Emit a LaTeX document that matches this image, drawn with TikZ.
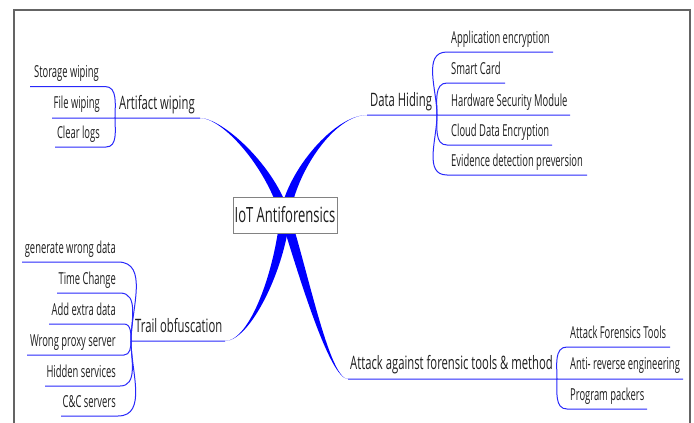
\documentclass[tikz,border=0pt]{standalone}
\usepackage{fontspec}
\setmainfont{Open Sans}[FakeStretch=0.57]
\newfontfamily\branchfont{Open Sans}[FakeStretch=0.61]
\newfontfamily\rootfont{Open Sans}[FakeStretch=0.62]
\usetikzlibrary{calc}
\definecolor{coreblue}{RGB}{0,0,255}
\definecolor{lineblue}{RGB}{40,40,250}
\definecolor{txt}{RGB}{30,30,30}
\definecolor{framegray}{RGB}{100,100,100}
\definecolor{boxgray}{RGB}{130,130,130}
% tapered main branch: hub, first control, second control, end
\newcommand\taperbranch[4]{%
  \fill[coreblue] (#4) .. controls (#3) and ($(#2)+(-5,0)$) .. ($(#1)+(-5,0)$)
    -- ($(#1)+(5,0)$) .. controls ($(#2)+(5,0)$) and (#3) .. (#4) -- cycle;}
\begin{document}
\begin{tikzpicture}[x=1pt,y=-1pt,
  leaf/.style={font=\fontsize{16.5}{18}\selectfont, text=txt, inner sep=0pt},
  branch/.style={font=\branchfont\fontsize{18.5}{20}\selectfont, text=txt, inner sep=0pt},
  rootbox/.style={draw=boxgray, fill=white, line width=0.9pt, minimum width=104pt,
    minimum height=36pt, inner sep=0pt, font=\rootfont\fontsize{21}{22}\selectfont, text=txt},
  fork/.style={draw=lineblue, line width=1pt},
  frame/.style={draw=framegray, line width=1.3pt},
]
\useasboundingbox (0,0) rectangle (694,423);
\draw[frame] (14,423) -- (14,10) -- (690,10) -- (690,423);

% hub and main branch anchors
\coordinate (hub) at (285,215);
\coordinate (aw-s) at (200,118); \coordinate (aw-j) at (115,118);
\coordinate (dh-s) at (367,115); \coordinate (dh-j) at (437,115);
\coordinate (to-s) at (225,341); \coordinate (to-j) at (131,341);
\coordinate (at-s) at (348,379); \coordinate (at-j) at (557,379);

% child anchors
\coordinate (sw-l) at (30,86.5);  \coordinate (sw-r) at (105,86.5);
\coordinate (fw-l) at (52,118);
\coordinate (cl-l) at (55,147);   \coordinate (cl-r) at (106,147);
\coordinate (ae-l) at (447,52);   \coordinate (ae-r) at (553,52);
\coordinate (sc-l) at (447,83);   \coordinate (sc-r) at (505,83);
\coordinate (hs-r) at (570,115);
\coordinate (cd-l) at (447,145);  \coordinate (cd-r) at (552,145);
\coordinate (ed-l) at (447,175);  \coordinate (ed-r) at (587,175);
\coordinate (gw-l) at (22,262);  \coordinate (gw-r) at (118,262);
\coordinate (tc-l) at (57,293);  \coordinate (tc-r) at (120,293);
\coordinate (ad-l) at (49,324);  \coordinate (ad-r) at (124,324);
\coordinate (wp-l) at (27,355);  \coordinate (wp-r) at (124,355);
\coordinate (hd-l) at (45,386);  \coordinate (hd-r) at (120,386);
\coordinate (cc-l) at (61,416);  \coordinate (cc-r) at (118,416);
\coordinate (af-l) at (567,347);  \coordinate (af-r) at (670,347);
\coordinate (ar-r) at (683,379);
\coordinate (pp-l) at (567,409);  \coordinate (pp-r) at (647,409);

% Artifact wiping fork
\draw[fork] (sw-l) -- (sw-r) to[out=0,in=90] (aw-j) -- (fw-l);
\draw[fork] (cl-l) -- (cl-r) to[out=0,in=-90] (aw-j) -- (aw-s);

% Data Hiding fork
\draw[fork] (ae-r) -- (ae-l) to[out=180,in=90] (dh-j) -- (hs-r);
\draw[fork] (sc-r) -- (sc-l) to[out=180,in=90] (dh-j);
\draw[fork] (dh-s) -- (dh-j) to[out=-90,in=180] (cd-l) -- (cd-r);
\draw[fork] (dh-j) to[out=-90,in=180] (ed-l) -- (ed-r);

% Trail obfuscation fork
\draw[fork] (gw-l) -- (gw-r) to[out=0,in=90] (to-j) -- (to-s);
\draw[fork] (tc-l) -- (tc-r) to[out=0,in=90] (to-j);
\draw[fork] (ad-l) -- (ad-r) to[out=0,in=90] (to-j);
\draw[fork] (wp-l) -- (wp-r) to[out=0,in=-90] (to-j);
\draw[fork] (hd-l) -- (hd-r) to[out=0,in=-90] (to-j);
\draw[fork] (cc-l) -- (cc-r) to[out=0,in=-90] (to-j);

% Attack fork
\draw[fork] (af-r) -- (af-l) to[out=180,in=90] (at-j) -- (ar-r);
\draw[fork] (at-s) -- (at-j) to[out=-90,in=180] (pp-l) -- (pp-r);

% thick tapered branches from the root
\taperbranch{hub}{270,165}{222,118}{aw-s}
\taperbranch{hub}{292,170}{335,115}{dh-s}
\taperbranch{hub}{280,270}{250,341}{to-s}
\taperbranch{hub}{305,280}{330,379}{at-s}

\node[rootbox] (root) at (hub) {IoT Antiforensics};

% branch labels
\node[branch, anchor=base west] (aw) at (119,109) {Artifact wiping};
\node[branch, anchor=base west] (dh) at (370,106) {Data Hiding};
\node[branch, anchor=base west] (to) at (135,332) {Trail obfuscation};
\node[branch, anchor=base west] (at) at (350,369.5) {Attack against forensic tools \& method};

% leaf labels
\node[leaf, anchor=base east] (sw) at (99,77.5) {Storage wiping};
\node[leaf, anchor=base east] (fw) at (100,108.5) {File wiping};
\node[leaf, anchor=base east] (cl) at (100,138) {Clear logs};

\node[leaf, anchor=base west] (ae) at (451,43) {Application encryption};
\node[leaf, anchor=base west] (sc) at (451,74) {Smart Card};
\node[leaf, anchor=base west] (hs) at (451,106) {Hardware Security Module};
\node[leaf, anchor=base west] (cd) at (451,136) {Cloud Data Encryption};
\node[leaf, anchor=base west] (ed) at (451,166) {Evidence detection preversion};

\node[leaf, anchor=base east] (gw) at (116,253) {generate wrong data};
\node[leaf, anchor=base east] (tc) at (116,284) {Time Change};
\node[leaf, anchor=base east] (ad) at (116,315) {Add extra data};
\node[leaf, anchor=base east] (wp) at (116,346) {Wrong proxy server};
\node[leaf, anchor=base east] (hd) at (116,377) {Hidden services};
\node[leaf, anchor=base east] (cc) at (116,407) {C\&C servers};

\node[leaf, anchor=base west] (af) at (570,338) {Attack Forensics Tools};
\node[leaf, anchor=base west] (ar) at (570,369.5) {Anti- reverse engineering};
\node[leaf, anchor=base west] (pp) at (570,400) {Program packers};
\end{tikzpicture}
\end{document}
